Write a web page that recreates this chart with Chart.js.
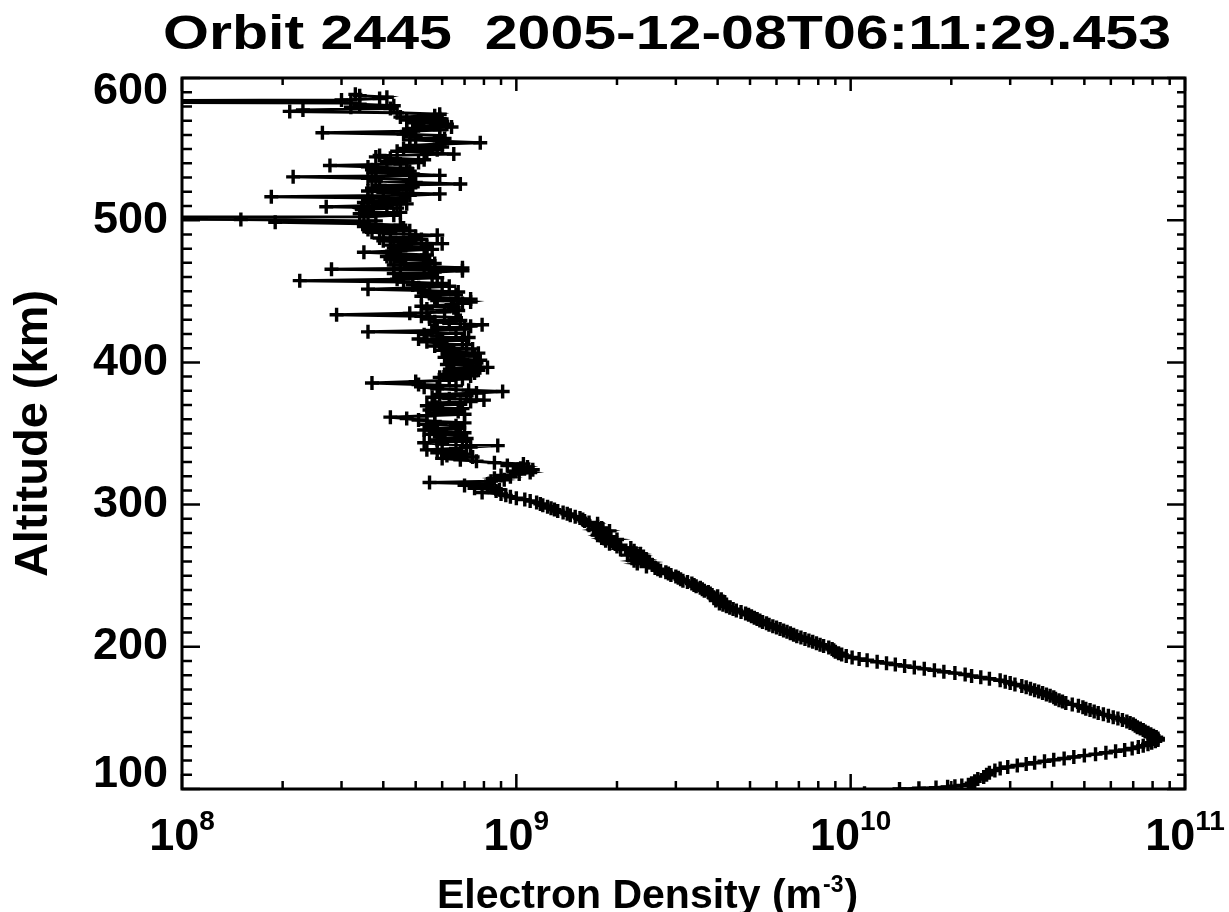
<!DOCTYPE html>
<html>
<head>
<meta charset="utf-8">
<script src="https://cdn.jsdelivr.net/npm/chart.js@4.4.0/dist/chart.umd.min.js"></script>
<style>
html,body{margin:0;padding:0;background:#fff;}
canvas{display:block;}
</style>
</head>
<body>
<canvas id="c" width="1229" height="912" style="width:1229px;height:912px"></canvas>
<script>
// ---- texts ----
const titleText = 'Orbit 2445  2005-12-08T06:11:29.453';
const yTitleText = 'Altitude (km)';
const xTitleMain = 'Electron Density (m';
const xTitleSup = '-3';
const xTitleEnd = ')';

// ---- tick labels ----
const xTickValues = [1e8, 1e9, 1e10, 1e11];
const xTickBase = '10';
const xTickExponents = ['8', '9', '10', '11'];
const yTickValues = [100, 200, 300, 400, 500, 600];
const yTickLabels = ['100', '200', '300', '400', '500', '600'];

// ---- profile: altitude (km) and electron density (m^-3) ----
const altitudeKm = [
  97, 100, 100.5, 101, 101.5, 102, 102.5, 103, 104, 105.5,
  107, 108.5, 110, 111.5, 113, 114.5, 115.5, 116.5, 117.5, 118.5,
  119.5, 120.5, 121.5, 122.5, 123.5, 124.5, 125.5, 126.5, 127.5, 128.5,
  129.5, 130.5, 131.5, 132.5, 133.5, 134.5, 135.5, 136.5,
  137.5, 138.5, 139.5, 140.5, 141.5, 142.5, 143.5, 144.5, 145.5, 146.5,
  147.5, 148.5, 149.5, 150.5, 151.5, 152.5, 153.5, 154.5, 155.5, 156.5,
  157.5, 158.5, 159.5, 160.5, 161.5, 162.5, 163.5, 164.5, 165.5, 166.5,
  167.5, 168.5, 169.5, 170.5, 171.5, 172.5, 173.5, 174.5, 175.5, 176.5,
  177.5, 178.5, 179.5, 180.5, 181.5, 182.5, 183.5, 184.5, 185.5, 186.5,
  187.5, 188.5, 189.5, 190.5, 191.5, 192.5, 193.5, 194.5, 195.5, 196.5,
  197.5, 198.5, 199.5, 200.5, 201.5, 202.5, 203.5, 204.5, 205.5, 206.5,
  207.5, 208.5, 209.5, 210.5, 211.5, 212.5, 213.5, 214.5, 215.5, 216.5,
  217.5, 218.5, 219.5, 220.5, 221.5, 222.5, 223.5, 224.5, 225.5, 226.5,
  227.5, 228.5, 229.5, 230.5, 231.5, 232.5, 233.5, 234.5, 235.5, 236.5,
  237.5, 238.5, 239.5, 240.5, 241.5, 242.5, 243.5, 244.5, 245.5, 246.5,
  247.5, 248.5, 249.5, 250.5, 251.5, 252.5, 253.5, 254.5, 255.5, 256.5,
  257.5, 258.5, 259.5, 260.5, 261.5, 262.5, 263.5, 264.5, 265.5, 266.5,
  267.5, 268.5, 269.5, 270.5, 271.5, 272.5, 273.5, 274.5, 275.5, 276.5,
  277.5, 278.5, 279.5, 280.5, 281.5, 282.5, 283.5, 284.5, 285.5, 286.5,
  287.5, 288.5, 289.5, 290.5, 291.5, 292.5, 293.5, 294.5, 295.5, 296.5,
  297.5, 298.5, 299.5, 300.5, 301.5, 302.5, 303.5, 304.5, 305.5, 306.5,
  307.5, 308.5, 309.5, 310.5, 311.5, 312.5, 313.5, 314.5, 315.5, 316.5,
  317.5, 318.5, 319.5, 320.5, 321.5, 322.5, 323.5, 324.5, 325.5, 326.5,
  327.5, 328.5, 329.5, 330.5, 331.5, 332.5, 333.5, 334.5, 335.5, 336.5,
  337.5, 338.5, 339.5, 340.5, 341.5, 342.5, 343.5, 344.5, 345.5, 346.5,
  347.5, 348.5, 349.5, 350.5, 351.5, 352.5, 353.5, 354.5, 355.5, 356.5,
  357.5, 358.5, 359.5, 360.5, 361.5, 362.5, 363.5, 364.5, 365.5, 366.5,
  367.5, 368.5, 369.5, 370.5, 371.5, 372.5, 373.5, 374.5, 375.5, 376.5,
  377.5, 378.5, 379.5, 380.5, 381.5, 382.5, 383.5, 384.5, 385.5, 386.5,
  387.5, 388.5, 389.5, 390.5, 391.5, 392.5, 393.5, 394.5, 395.5, 396.5,
  397.5, 398.5, 399.5, 400.5, 401.5, 402.5, 403.5, 404.5, 405.5, 406.5,
  407.5, 408.5, 409.5, 410.5, 411.5, 412.5, 413.5, 414.5, 415.5, 416.5,
  417.5, 418.5, 419.5, 420.5, 421.5, 422.5, 423.5, 424.5, 425.5, 426.5,
  427.5, 428.5, 429.5, 430.5, 431.5, 432.5, 433.5, 434.5, 435.5, 436.5,
  437.5, 438.5, 439.5, 440.5, 441.5, 442.5, 443.5, 444.5, 445.5, 446.5,
  447.5, 448.5, 449.5, 450.5, 451.5, 452.5, 453.5, 454.5, 455.5, 456.5,
  457.5, 458.5, 459.5, 460.5, 461.5, 462.5, 463.5, 464.5, 465.5, 466.5,
  467.5, 468.5, 469.5, 470.5, 471.5, 472.5, 473.5, 474.5, 475.5, 476.5,
  477.5, 478.5, 479.5, 480.5, 481.5, 482.5, 483.5, 484.5, 485.5, 486.5,
  487.5, 488.5, 489.5, 490.5, 491.5, 492.5, 493.5, 494.5, 495.5, 496.5,
  497.5, 498.5, 499.5, 500.5, 501.5, 502.5, 503.5, 504.5, 505.5, 506.5,
  507.5, 508.5, 509.5, 510.5, 511.5, 512.5, 513.5, 514.5, 515.5, 516.5,
  517.5, 518.5, 519.5, 520.5, 521.5, 522.5, 523.5, 524.5, 525.5, 526.5,
  527.5, 528.5, 529.5, 530.5, 531.5, 532.5, 533.5, 534.5, 535.5, 536.5,
  537.5, 538.5, 539.5, 540.5, 541.5, 542.5, 543.5, 544.5, 545.5, 546.5,
  547.5, 548.5, 549.5, 550.5, 551.5, 552.5, 553.5, 554.5, 555.5, 556.5,
  557.5, 558.5, 559.5, 560.5, 561.5, 562.5, 563.5, 564.5, 565.5, 566.5,
  567.5, 568.5, 569.5, 570.5, 571.5, 572.5, 573.5, 574.5, 575.5, 576.5,
  577.5, 578.5, 579.5, 580.5, 581.5, 582.5, 583.5, 584.5, 585.5, 586.5,
  587.5, 588.5
];
const electronDensity = [
  1.1e10, 1.4e10, 1.6e10, 1.8e10, 1.95e10, 2.05e10, 2.15e10, 2.25e10, 2.3e10, 2.35e10,
  2.4e10, 2.5e10, 2.55e10, 2.6e10, 2.7e10, 2.8e10, 2.95e10, 3.15e10, 3.35e10, 3.55e10,
  3.8e10, 4.05e10, 4.35e10, 4.65e10, 5.0e10, 5.4e10, 5.8e10, 6.2e10, 6.6e10, 6.95e10,
  7.25e10, 7.5e10, 7.75e10, 7.95e10, 8.15e10, 8.3e10, 8.3e10, 8.2e10,
  8.05e10, 7.9e10, 7.75e10, 7.6e10, 7.5e10, 7.35e10, 7.2e10, 7.1e10, 7.0e10, 6.85e10,
  6.7e10, 6.5e10, 6.3e10, 6.1e10, 5.9e10, 5.7e10, 5.5e10, 5.35e10, 5.2e10, 5.05e10,
  4.95e10, 4.8e10, 4.6e10, 4.4e10, 4.3e10, 4.2e10, 4.1e10, 4.05e10, 3.95e10, 3.85e10,
  3.75e10, 3.65e10, 3.55e10, 3.45e10, 3.35e10, 3.25e10, 3.1e10, 3.0e10, 2.9e10, 2.8e10,
  2.6e10, 2.45e10, 2.3e10, 2.2e10, 2.05e10, 1.9e10, 1.78e10, 1.66e10, 1.55e10, 1.45e10,
  1.36e10, 1.28e10, 1.2e10, 1.12e10, 1.06e10, 1.01e10, 9.7e9, 9.4e9, 9.2e9, 9.0e9,
  8.9e9, 8.8e9, 8.6e9, 8.3e9, 8.1e9, 7.9e9, 7.7e9, 7.5e9, 7.3e9, 7.1e9,
  6.9e9, 6.75e9, 6.6e9, 6.45e9, 6.3e9, 6.15e9, 6.0e9, 5.85e9, 5.7e9, 5.6e9,
  5.45e9, 5.35e9, 5.25e9, 5.15e9, 5.05e9, 4.95e9, 4.85e9, 4.7e9, 4.55e9, 4.45e9,
  4.35e9, 4.25e9, 4.15e9, 4.05e9, 4.2e9, 3.95e9, 4.1e9, 3.9e9, 4.0e9, 3.85e9,
  3.8e9, 3.75e9, 3.65e9, 3.6e9, 3.55e9, 3.45e9, 3.4e9, 3.35e9, 3.25e9, 3.15e9,
  3.1e9, 3.05e9, 3.0e9, 2.9e9, 2.85e9, 2.8e9, 2.7e9, 2.65e9, 2.6e9, 2.45e9,
  2.55e9, 2.3e9, 2.5e9, 2.25e9, 2.45e9, 2.3e9, 2.4e9, 2.15e9, 2.35e9, 2.2e9,
  2.25e9, 2.05e9, 2.2e9, 2.0e9, 2.05e9, 1.9e9, 1.95e9, 1.85e9, 2.0e9, 1.8e9,
  1.9e9, 1.75e9, 1.85e9, 1.8e9, 1.9e9, 1.7e9, 1.8e9, 1.75e9, 1.65e9, 1.75e9,
  1.65e9, 1.6e9, 1.58e9, 1.55e9, 1.5e9, 1.45e9, 1.42e9, 1.38e9, 1.33e9, 1.3e9,
  1.27e9, 1.24e9, 1.2e9, 1.18e9, 1.15e9, 1.1e9, 1.06e9, 1.0e9, 9.6e8, 9.3e8,
  9.0e8, 7.9e8, 8.7e8, 8.9e8, 7.5e8, 8.5e8, 7.0e8, 8.2e8, 5.5e8, 8.4e8,
  9.2e8, 8.6e8, 9.6e8, 9.0e8, 1.02e9, 1.1e9, 9.8e8, 1.12e9, 1.03e9, 1.08e9,
  9.4e8, 1.05e9, 8.6e8, 7.6e8, 6.8e8, 6.0e8, 7.4e8, 6.2e8, 7.1e8, 5.8e8,
  6.8e8, 5.4e8, 6.6e8, 7.3e8, 8.8e8, 6.0e8, 5.3e8, 6.9e8, 5.8e8, 7.1e8,
  5.9e8, 6.8e8, 5.5e8, 7.0e8, 5.8e8, 5.3e8, 6.7e8, 5.6e8, 6.6e8, 5.4e8,
  7.0e8, 5.7e8, 5.1e8, 4.7e8, 4.2e8, 5.4e8, 7.0e8, 5.7e8, 6.7e8, 5.5e8,
  6.9e8, 5.8e8, 5.4e8, 6.8e8, 5.7e8, 7.3e8, 8.0e8, 6.3e8, 5.6e8, 7.1e8,
  5.9e8, 7.6e8, 9.1e8, 7.2e8, 5.8e8, 5.3e8, 6.6e8, 5.1e8, 3.7e8, 5.0e8,
  6.3e8, 6.9e8, 5.9e8, 7.3e8, 6.1e8, 7.5e8, 6.3e8, 7.7e8, 6.5e8, 8.2e8,
  7.4e8, 6.2e8, 7.6e8, 6.4e8, 7.8e8, 6.6e8, 6.1e8, 7.5e8, 6.3e8, 7.7e8,
  6.5e8, 6.0e8, 7.4e8, 6.2e8, 5.7e8, 7.1e8, 5.9e8, 5.4e8, 6.9e8, 5.1e8,
  7.2e8, 5.8e8, 5.3e8, 6.6e8, 3.6e8, 5.6e8, 7.0e8, 5.8e8, 7.3e8, 7.9e8,
  6.3e8, 5.7e8, 6.8e8, 5.5e8, 6.6e8, 5.2e8, 2.9e8, 4.8e8, 6.1e8, 6.7e8,
  5.4e8, 6.5e8, 5.2e8, 6.4e8, 6.9e8, 7.3e8, 5.8e8, 7.3e8, 5.7e8, 5.2e8,
  6.6e8, 5.5e8, 6.7e8, 5.3e8, 3.6e8, 5.1e8, 6.3e8, 4.9e8, 6.0e8, 4.6e8,
  2.25e8, 4.4e8, 5.8e8, 4.5e8, 5.6e8, 4.3e8, 5.7e8, 6.9e8, 2.8e8, 6.9e8,
  5.3e8, 4.3e8, 5.7e8, 4.5e8, 5.5e8, 4.2e8, 5.3e8, 4.1e8, 5.4e8, 4.3e8,
  3.5e8, 4.5e8, 5.6e8, 4.3e8, 5.4e8, 4.2e8, 6.0e8, 4.6e8, 4.0e8, 5.2e8,
  3.9e8, 5.0e8, 5.8e8, 4.2e8, 3.7e8, 4.8e8, 3.6e8, 4.6e8, 3.5e8, 4.5e8,
  3.5e8, 1.9e8, 3.8e8, 1.5e8, 5e6, 3.6e8, 4.3e8, 3.4e8, 4.5e8, 3.6e8,
  3.45e8, 4.4e8, 2.7e8, 4.1e8, 4.7e8, 3.5e8, 4.5e8, 3.6e8, 4.6e8, 1.85e8,
  4.8e8, 5.9e8, 4.0e8, 3.6e8, 4.7e8, 3.7e8, 4.9e8, 3.9e8, 6.8e8, 5.0e8,
  3.8e8, 4.8e8, 3.6e8, 2.15e8, 5.9e8, 4.9e8, 3.8e8, 4.8e8, 3.7e8, 4.7e8,
  3.6e8, 2.77e8, 4.5e8, 5.1e8, 4.1e8, 5.3e8, 4.2e8, 3.8e8, 3.9e8, 6.5e8,
  5.4e8, 4.4e8, 5.8e8, 4.6e8, 6.0e8, 4.8e8, 5.9e8, 7.8e8, 6.0e8, 4.8e8,
  6.1e8, 5.0e8, 5.9e8, 4.6e8, 2.63e8, 4.7e8, 5.9e8, 4.9e8, 6.4e8, 5.1e8,
  6.2e8, 4.9e8, 6.0e8, 4.7e8, 5.9e8, 4.5e8, 5.7e8, 5.9e8, 4.4e8, 2.1e8,
  2.3e8, 4.2e8, 3.2e8, 4.3e8, 3.4e8, 3.2e8, 5e6, 3.0e8, 3.9e8, 4.1e8,
  3.4e8, 3.3e8
];

const FONT = "'Liberation Sans', Arial, Helvetica, sans-serif";
const points = altitudeKm.map((a, i) => ({ x: electronDensity[i], y: a }));

const idlFrame = {
  id: 'idlFrame',
  beforeDraw(chart) {
    const c = chart.ctx;
    c.save();
    c.fillStyle = '#ffffff';
    c.fillRect(0, 0, chart.width, chart.height);
    c.restore();
  },
  afterDraw(chart) {
    const ctx = chart.ctx;
    const a = chart.chartArea;
    const xs = chart.scales.x, ys = chart.scales.y;
    ctx.save();
    ctx.strokeStyle = '#000';
    ctx.lineWidth = 2.5;
    ctx.lineCap = 'butt';
    ctx.beginPath();
    for (const dec of xTickValues) {
      for (let m = 1; m <= 9; m++) {
        const v = dec * m;
        if (v > xs.max * 1.0001) break;
        const px = xs.getPixelForValue(v);
        const lenB = m === 1 ? 15 : 8;
        const lenT = m === 1 ? 13 : 7;
        ctx.moveTo(px, a.bottom); ctx.lineTo(px, a.bottom - lenB);
        ctx.moveTo(px, a.top); ctx.lineTo(px, a.top + lenT);
      }
    }
    for (let v = ys.min; v <= ys.max + 0.001; v += 10) {
      const py = ys.getPixelForValue(v);
      const major = Math.abs(v % 100) < 0.001;
      const lenL = major ? 18 : 10;
      const lenR = major ? 18 : 8;
      ctx.moveTo(a.left, py); ctx.lineTo(a.left + lenL, py);
      ctx.moveTo(a.right, py); ctx.lineTo(a.right - lenR, py);
    }
    ctx.stroke();
    ctx.lineWidth = 3;
    ctx.strokeRect(a.left, a.top, a.right - a.left, a.bottom - a.top);

    ctx.fillStyle = '#000';
    ctx.textBaseline = 'alphabetic';

    // x tick labels: 10 with superscript exponent, centred on the decade ticks
    ctx.textAlign = 'left';
    xTickValues.forEach((v, i) => {
      const px = xs.getPixelForValue(v);
      ctx.font = 'bold 45px ' + FONT;
      const wb = ctx.measureText(xTickBase).width;
      ctx.font = 'bold 28px ' + FONT;
      const we = ctx.measureText(xTickExponents[i]).width;
      const x0 = px - (wb + we) / 2;
      ctx.font = 'bold 45px ' + FONT;
      ctx.fillText(xTickBase, x0, 850);
      ctx.font = 'bold 28px ' + FONT;
      ctx.fillText(xTickExponents[i], x0 + wb, 830);
    });

    // title (wide IDL-style lettering)
    ctx.font = 'bold 48px ' + FONT;
    ctx.textAlign = 'center';
    const w = ctx.measureText(titleText).width;
    ctx.save();
    ctx.translate(667, 48.5);
    ctx.scale(1008 / w, 1);
    ctx.fillText(titleText, 0, 0);
    ctx.restore();

    // x-axis title with superscript
    ctx.textAlign = 'left';
    let x0 = 437;
    ctx.font = 'bold 41px ' + FONT;
    ctx.fillText(xTitleMain, x0, 908);
    x0 += ctx.measureText(xTitleMain).width + 1;
    ctx.font = 'bold 23px ' + FONT;
    ctx.fillText(xTitleSup, x0, 892);
    x0 += ctx.measureText(xTitleSup).width + 1;
    ctx.font = 'bold 41px ' + FONT;
    ctx.fillText(xTitleEnd, x0, 908);
    ctx.restore();
  }
};

new Chart(document.getElementById('c').getContext('2d'), {
  type: 'scatter',
  data: {
    datasets: [{
      data: points,
      showLine: true,
      borderColor: '#000',
      borderWidth: 3,
      tension: 0,
      pointStyle: 'cross',
      pointRadius: 7,
      pointBorderWidth: 3.4,
      pointBorderColor: '#000',
      pointBackgroundColor: '#000'
    }]
  },
  options: {
    responsive: false,
    animation: false,
    devicePixelRatio: 1,
    events: [],
    layout: { padding: { top: 78, right: 44, left: 0, bottom: 0 } },
    plugins: {
      legend: { display: false },
      tooltip: { enabled: false },
      title: { display: false }
    },
    scales: {
      x: {
        type: 'logarithmic',
        position: 'bottom',
        min: 1e8,
        max: 1e11,
        afterBuildTicks: (s) => { s.ticks = xTickValues.map(v => ({ value: v })); },
        afterFit: (s) => { s.height = 123; s.paddingLeft = 0; s.paddingRight = 0; },
        grid: { display: false, drawTicks: false },
        border: { display: false },
        ticks: { display: false, autoSkip: false, maxRotation: 0, minRotation: 0 },
        title: { display: false, text: 'Electron Density (m\u207B\u00B3)' }
      },
      y: {
        type: 'linear',
        position: 'left',
        min: 100,
        max: 600,
        afterBuildTicks: (s) => { s.ticks = yTickValues.map(v => ({ value: v })); },
        afterFit: (s) => { s.width = 182; s.paddingTop = 0; s.paddingBottom = 0; },
        grid: { display: false, drawTicks: false },
        border: { display: false },
        ticks: {
          padding: 14, color: '#000',
          font: { family: FONT, size: 45, weight: 'bold', lineHeight: '28px' },
          callback: (v) => {
            const i = yTickValues.indexOf(v);
            if (i < 0) return '';
            if (i === yTickValues.length - 1) return ['', yTickLabels[i]];
            if (i === 0) return [yTickLabels[i], ''];
            return yTickLabels[i];
          }
        },
        title: {
          display: true, text: yTitleText, color: '#000',
          font: { family: FONT, size: 47, weight: 'bold' },
          padding: { top: 6, bottom: 0 }
        }
      }
    }
  },
  plugins: [idlFrame]
});
</script>
</body>
</html>
